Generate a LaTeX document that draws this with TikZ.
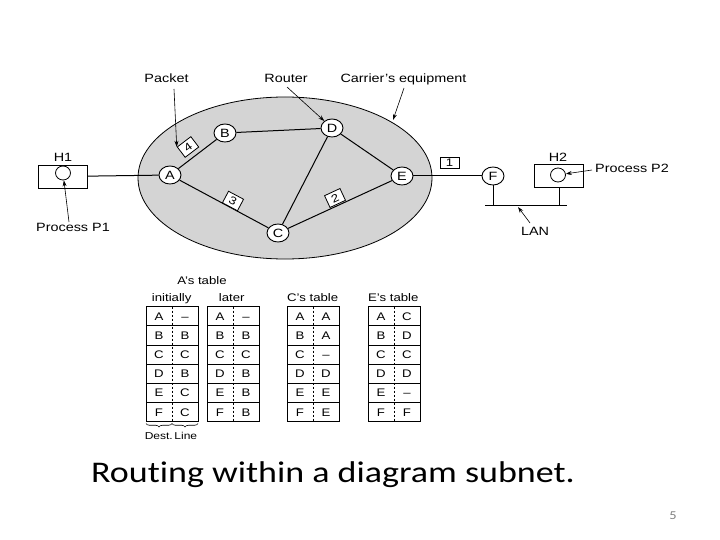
\documentclass[tikz,border=0pt]{standalone}
\usepackage{fontspec}
\setmainfont{Liberation Sans}[FakeStretch=1.2]
\newfontfamily\capfont{Carlito}[FakeStretch=1.2,Ligatures={NoCommon}]
\usetikzlibrary{shapes.geometric,arrows.meta,decorations.pathreplacing,backgrounds}
\definecolor{subnetgray}{RGB}{212,212,212}
\definecolor{pagenum}{RGB}{128,128,128}
\tikzset{
 router/.style={ellipse,draw,fill=white,line width=0.9pt,minimum width=22pt,minimum height=18pt,inner sep=0pt,font=\fontsize{12}{12}\selectfont},
 host/.style={draw,fill=white,line width=0.8pt,minimum width=49pt,minimum height=23pt,inner sep=0pt},
 proc/.style={ellipse,draw,fill=white,line width=0.8pt,minimum width=15pt,minimum height=14pt,inner sep=0pt},
 pkt/.style={draw,fill=white,line width=0.8pt,minimum width=17pt,minimum height=13pt,inner sep=0pt,font=\fontsize{11}{11}\selectfont},
 lbl/.style={font=\fontsize{12}{12}\selectfont,inner sep=0pt,anchor=base},
 tlbl/.style={font=\fontsize{11}{11}\selectfont,inner sep=0pt,anchor=base},
 cell/.style={font=\fontsize{11}{11}\selectfont,inner sep=0pt,text height=7.9pt,text depth=0pt},
 link/.style={line width=1pt},
 pointer/.style={-{Stealth[length=6pt,width=4pt]},line width=0.6pt},
 tline/.style={line width=0.8pt},
}
\newcommand\rtab[3]{%
 \foreach \dd/\ll [count=\i] in {#3} {
   \node[cell] (#2d\i) at (#1+13, 306.7+19.17*\i-9.58) {\dd};
   \node[cell] (#2l\i) at (#1+39, 306.7+19.17*\i-9.58) {\ll};
 }
 \foreach \i in {1,...,5} { \draw[tline] (#1, 306.7+19.17*\i) -- (#1+52, 306.7+19.17*\i); }
 \draw[tline,dash pattern=on 2pt off 2pt] (#1+26,306.7) -- (#1+26,421.7);
 \draw[tline] (#1,306.7) rectangle (#1+52,421.7);
}
\begin{document}
\begin{tikzpicture}[x=1pt,y=-1pt]
\useasboundingbox (0,0) rectangle (720,540);

% hosts, routers
\coordinate (lanL) at (485,206);
\coordinate (lanR) at (567,206);
\node[host] (H1box) at (62.5,176.5) {};
\node[host] (H2box) at (559,176) {};
\node[proc] (P1c) at (63,173) {};
\node[proc] (P2c) at (558,175) {};
\node[router] (A) at (170,175) {A};
\node[router] (B) at (225,133) {B};
\node[router] (D) at (332,128) {D};
\node[router] (C) at (278,233) {C};
\node[router] (E) at (402,176) {E};
\node[router] (F) at (493,176) {F};

\begin{pgfonlayer}{background}
\fill[white] (0,0) rectangle (720,540);
% subnet (carrier's equipment)
\draw[fill=subnetgray,line width=0.8pt] (285,178) ellipse [x radius=147, y radius=81];
% links
\draw[link] (H1box) -- (A);
\draw[link] (A) -- (B);
\draw[link] (B) -- (D);
\draw[link] (A) -- (C);
\draw[link] (D) -- (C);
\draw[link] (D) -- (E);
\draw[link] (C) -- (E);
\draw[link] (E) -- (F);
\draw[link] (F) -- (F |- lanL);
\draw[link] (H2box) -- (H2box |- lanL);
\draw[link] (lanL) -- (lanR);
\end{pgfonlayer}

% packets
\node[pkt,rotate=37] (pk4) at (188,147) {4};
\node[pkt,rotate=-28] (pk3) at (233,201) {3};
\node[pkt,rotate=25] (pk2) at (335,198) {2};
\node[pkt,minimum width=19pt,minimum height=11pt] (pk1) at (449.5,163) {1};

% labels
\node[lbl] (H1) at (63,161.7) {H1};
\node[lbl] (H2) at (558,161.7) {H2};
\node[lbl] (packet) at (166.5,82.7) {Packet};
\node[lbl] (router) at (286,82.7) {Router};
\node[lbl] (carrier) at (403.5,82.7) {Carrier's equipment};
\node[lbl] (P1) at (73,231.7) {Process P1};
\node[lbl] (P2) at (632,173) {Process P2};
\node[lbl] (lan) at (535,236) {LAN};

\coordinate (packetT) at (174,89);
\coordinate (routerT) at (287,87);
\coordinate (carrierT) at (404,88);
\coordinate (carrierH) at (393,120);
\coordinate (P1T) at (69,222);
\coordinate (P2T) at (592,170);
\coordinate (lanT) at (530,223);
\coordinate (lanH) at (518,207);
\draw[pointer] (packetT) -- (pk4.north west);
\draw[pointer] (routerT) -- (D);
\draw[pointer] (carrierT) -- (carrierH);
\draw[pointer] (P1T) -- (P1c);
\draw[pointer] (P2T) -- (P2c);
\draw[pointer] (lanT) -- (lanH);

% routing tables
\node[tlbl] (atab) at (202,284) {A's table};
\node[tlbl] (init) at (171.7,301.7) {initially};
\node[tlbl] (later) at (231.7,301.7) {later};
\node[tlbl] (ctab) at (312.7,301.7) {C's table};
\node[tlbl] (etab) at (393.3,301.7) {E's table};
\rtab{146}{ti}{A/--,B/B,C/C,D/B,E/C,F/C}
\rtab{207}{tl}{A/--,B/B,C/C,D/B,E/B,F/B}
\rtab{287}{tc}{A/A,B/A,C/--,D/D,E/E,F/E}
\rtab{368}{te}{A/C,B/D,C/C,D/D,E/--,F/F}
\draw[line width=0.6pt,decorate,decoration={brace,mirror,amplitude=3.5pt}] (146,423.5) -- (172,423.5);
\draw[line width=0.6pt,decorate,decoration={brace,mirror,amplitude=3.5pt}] (172,423.5) -- (198,423.5);
\node[font=\fontsize{10}{10}\selectfont,inner sep=0pt,anchor=base] (destline) at (171,439.5) {Dest.\,Line};

% caption
\node[font=\capfont\fontsize{30}{30}\selectfont,inner sep=0pt,anchor=base] (caption) at (333,482) {Routing within a diagram subnet.};
\node[font=\capfont\fontsize{12}{12}\selectfont,text=pagenum,inner sep=0pt,anchor=base] (pnum) at (673,519) {5};
\end{tikzpicture}
\end{document}
